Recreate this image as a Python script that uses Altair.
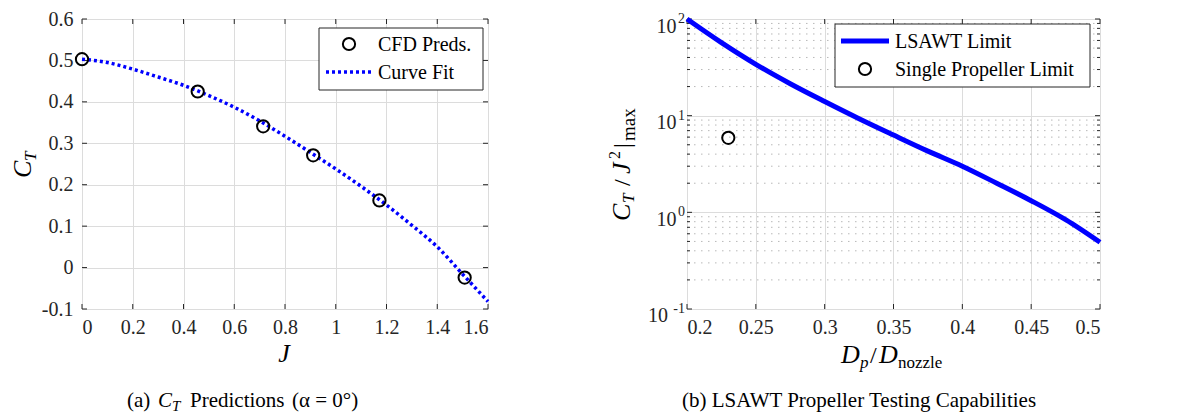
import altair as alt
import pandas as pd

SERIF = "Liberation Serif"
DARK = "#262626"

# ---------------- data (a) ----------------
J_CFD = [0.0, 0.456, 0.714, 0.911, 1.172, 1.508]
CT_CFD = [0.503, 0.425, 0.341, 0.271, 0.162, -0.024]
J_FIT = [0.0, 0.1, 0.2, 0.3, 0.4, 0.5, 0.6, 0.7, 0.8, 0.9, 1.0, 1.1, 1.2, 1.3, 1.4, 1.5, 1.6]
CT_FIT = [0.503, 0.495, 0.479, 0.460, 0.440, 0.415, 0.387, 0.354, 0.317, 0.278,
          0.238, 0.196, 0.151, 0.102, 0.050, -0.016, -0.082]
J_TICKS = [0, 0.2, 0.4, 0.6, 0.8, 1.0, 1.2, 1.4, 1.6]
CT_TICKS = [-0.1, 0, 0.1, 0.2, 0.3, 0.4, 0.5, 0.6]

# ---------------- data (b) ----------------
D_RATIO = [0.2, 0.225, 0.25, 0.275, 0.3, 0.325, 0.35, 0.375, 0.4, 0.425, 0.45, 0.475, 0.5]
LSAWT = [100, 57, 34, 21.4, 14, 9.3, 6.3, 4.3, 3.0, 2.0, 1.32, 0.84, 0.49]
SP_X = [0.23]
SP_Y = [5.9]
DR_TICKS = [0.2, 0.25, 0.3, 0.35, 0.4, 0.45, 0.5]
DEC_TICKS = [0.1, 1, 10, 100]
DEC_EXP = ["-1", "0", "1", "2"]
MINOR_TICKS = [0.2, 0.3, 0.4, 0.5, 0.6, 0.7, 0.8, 0.9,
               2, 3, 4, 5, 6, 7, 8, 9, 20, 30, 40, 50, 60, 70, 80, 90]

W1, W2, H = 406, 413, 290
ONE = pd.DataFrame({"a": [0]})
CIRCLE = 150


def txt(s, x, y, size=20, style="normal", angle=0, align="left", baseline="alphabetic", color="#000"):
    return alt.Chart(ONE).mark_text(
        text=s, font=SERIF, fontSize=size, fontStyle=style, angle=angle,
        align=align, baseline=baseline, color=color
    ).encode(x=alt.value(x), y=alt.value(y))


def spacer():
    return alt.Chart(ONE).mark_rule(opacity=0).encode(
        x=alt.value(0), x2=alt.value(1), y=alt.value(-9), y2=alt.value(-9))


axis_common = dict(title=None, ticks=False, domain=False, grid=True, gridColor="#dcdcdc",
                   gridWidth=1, labelFont=SERIF, labelFontSize=20, labelColor=DARK)

# ============ panel (a) ============
XL = alt.X("x:Q", scale=alt.Scale(domain=[0, 1.6], nice=False, zero=False),
           axis=alt.Axis(values=J_TICKS, labelPadding=8,
                         labelExpr="format(datum.value, '.1~f')", **axis_common))
YL = alt.Y("y:Q", scale=alt.Scale(domain=[-0.1, 0.6], nice=False, zero=False),
           axis=alt.Axis(values=CT_TICKS, labelPadding=9,
                         labelExpr="datum.value < -0.001 ? '-' + format(-datum.value, '.1~f') : format(datum.value, '.1~f')",
                         **axis_common))

fit_df = pd.DataFrame({"x": J_FIT, "y": CT_FIT})
cfd_df = pd.DataFrame({"x": J_CFD, "y": CT_CFD})
jt_df = pd.DataFrame({"x": J_TICKS})
ct_df = pd.DataFrame({"y": CT_TICKS})

a_layers = [
    spacer(),
    alt.Chart(jt_df).mark_rule(color=DARK, strokeWidth=1).encode(x=XL, y=alt.value(H - 5), y2=alt.value(H)),
    alt.Chart(jt_df).mark_rule(color=DARK, strokeWidth=1).encode(x=XL, y=alt.value(0), y2=alt.value(5)),
    alt.Chart(ct_df).mark_rule(color=DARK, strokeWidth=1).encode(y=YL, x=alt.value(0), x2=alt.value(5)),
    alt.Chart(ct_df).mark_rule(color=DARK, strokeWidth=1).encode(y=YL, x=alt.value(W1 - 5), x2=alt.value(W1)),
    alt.Chart(fit_df).mark_line(color="#0000ff", strokeWidth=3.5, strokeDash=[3, 3], strokeCap="butt",
                                interpolate="monotone").encode(x=XL, y=YL),
    alt.Chart(cfd_df).mark_point(shape="circle", filled=False, color="#000", strokeWidth=2, size=CIRCLE, opacity=1).encode(x=XL, y=YL),
    # legend
    alt.Chart(ONE).mark_rect(fill="white", stroke=DARK, strokeWidth=1).encode(
        x=alt.value(237), x2=alt.value(401), y=alt.value(9), y2=alt.value(71)),
    alt.Chart(ONE).mark_point(shape="circle", filled=False, color="#000", strokeWidth=2, size=CIRCLE, opacity=1).encode(
        x=alt.value(267), y=alt.value(25)),
    alt.Chart(ONE).mark_rule(color="#0000ff", strokeWidth=3.5, strokeDash=[3, 3], strokeCap="butt").encode(
        x=alt.value(244), x2=alt.value(291), y=alt.value(53)),
    txt("CFD Preds.", 296, 32),
    txt("Curve Fit", 296, 60),
    # axis titles
    txt("C", -51, 159, size=26, style="italic", angle=270),
    txt("T", -46, 142, size=17, style="italic", angle=270),
    txt("J", 202, 343, size=26, style="italic", align="center"),
    # caption
    txt("(a)", 45, 388, size=21),
    txt("C", 76, 388, size=21, style="italic"),
    txt("T", 90, 392, size=15, style="italic"),
    txt("Predictions", 108, 388, size=21),
    txt("(\u03b1 = 0\u00b0)", 210, 388, size=21),
]
panel_a = alt.layer(*a_layers).properties(width=W1, height=H)

# ============ panel (b) ============
XR = alt.X("x:Q", scale=alt.Scale(domain=[0.2, 0.5], nice=False, zero=False),
           axis=alt.Axis(values=DR_TICKS, labelPadding=8,
                         labelExpr="format(datum.value, '.2~f')", **axis_common))
YR = alt.Y("y:Q", scale=alt.Scale(type="log", domain=[0.1, 100], nice=False),
           axis=alt.Axis(values=DEC_TICKS, labelPadding=11,
                         labelExpr="datum.value < 0.5 ? '' : '10'",
                         labelOffset=7, labelBaseline="middle", **axis_common))

lim_df = pd.DataFrame({"x": D_RATIO, "y": LSAWT})
sp_df = pd.DataFrame({"x": SP_X, "y": SP_Y})
drt_df = pd.DataFrame({"x": DR_TICKS})
dec_df = pd.DataFrame({"y": DEC_TICKS, "e": DEC_EXP})
low_df = pd.DataFrame({"y": DEC_TICKS[:1]})
min_df = pd.DataFrame({"y": MINOR_TICKS})

b_layers = [
    spacer(),
    alt.Chart(min_df).mark_rule(color="#b8b8b8", strokeWidth=1, strokeDash=[1.5, 5.5]).encode(
        y=YR, x=alt.value(0), x2=alt.value(W2)),
    alt.Chart(drt_df).mark_rule(color=DARK, strokeWidth=1).encode(x=XR, y=alt.value(H - 5), y2=alt.value(H)),
    alt.Chart(drt_df).mark_rule(color=DARK, strokeWidth=1).encode(x=XR, y=alt.value(0), y2=alt.value(5)),
    alt.Chart(dec_df).mark_rule(color=DARK, strokeWidth=1).encode(y=YR, x=alt.value(0), x2=alt.value(5)),
    alt.Chart(dec_df).mark_rule(color=DARK, strokeWidth=1).encode(y=YR, x=alt.value(W2 - 5), x2=alt.value(W2)),
    alt.Chart(min_df).mark_rule(color=DARK, strokeWidth=1).encode(y=YR, x=alt.value(0), x2=alt.value(3)),
    alt.Chart(min_df).mark_rule(color=DARK, strokeWidth=1).encode(y=YR, x=alt.value(W2 - 3), x2=alt.value(W2)),
    # "10" for 10^-1 (moved left to leave room for the exponent)
    alt.Chart(low_df).mark_text(font=SERIF, fontSize=20, color=DARK, align="right", baseline="middle",
                                dy=7, text="10").encode(y=YR, x=alt.value(-19)),
    alt.Chart(dec_df).mark_text(font=SERIF, fontSize=14, color=DARK, align="right", baseline="middle",
                                dy=0).encode(y=YR, x=alt.value(-2), text="e:N"),
    alt.Chart(lim_df).mark_line(color="#0000ff", strokeWidth=5, interpolate="monotone").encode(x=XR, y=YR),
    alt.Chart(sp_df).mark_point(shape="circle", filled=False, color="#000", strokeWidth=2, size=CIRCLE, opacity=1).encode(x=XR, y=YR),
    # legend
    alt.Chart(ONE).mark_rect(fill="white", stroke=DARK, strokeWidth=1).encode(
        x=alt.value(148), x2=alt.value(403), y=alt.value(5), y2=alt.value(68)),
    alt.Chart(ONE).mark_rule(color="#0000ff", strokeWidth=5).encode(
        x=alt.value(154), x2=alt.value(202), y=alt.value(22)),
    alt.Chart(ONE).mark_point(shape="circle", filled=False, color="#000", strokeWidth=2, size=CIRCLE, opacity=1).encode(
        x=alt.value(178), y=alt.value(50)),
    txt("LSAWT Limit", 208, 29),
    txt("Single Propeller Limit", 208, 57),
    # y title: C_T / J^2 |_max
    txt("C", -57, 202, size=26, style="italic", angle=270),
    txt("T", -53, 184, size=17, style="italic", angle=270),
    txt("/", -57, 167, size=24, angle=270),
    txt("J", -57, 155, size=26, style="italic", angle=270),
    txt("2", -67, 140, size=16, angle=270),
    txt("|", -57, 129, size=24, angle=270),
    txt("max", -52, 122, size=19, angle=270),
    # x title: D_p / D_nozzle
    txt("D", 154, 344, size=26, style="italic"),
    txt("p", 173, 349, size=17, style="italic"),
    txt("/", 183, 344, size=24),
    txt("D", 192, 344, size=26, style="italic"),
    txt("nozzle", 211, 349, size=17),
    # caption
    txt("(b) LSAWT Propeller Testing Capabilities", 172, 388, size=21, align="center"),
]
panel_b = alt.layer(*b_layers).properties(width=W2, height=H)

chart = alt.hconcat(panel_a, panel_b, spacing=110).properties(
    padding={"left": 1, "top": 0, "right": 0, "bottom": 0}
).configure_view(stroke=DARK, strokeWidth=1).configure(background="white")

chart.save("out.html", embed_options={"renderer": "svg", "actions": False})
